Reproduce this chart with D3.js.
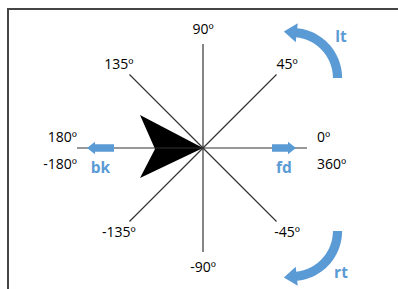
<!DOCTYPE html>
<html>
<head>
<meta charset="utf-8">
<script src="https://cdn.jsdelivr.net/npm/d3@7"></script>
<style>
  body { margin: 0; background: #fff; }
  svg { display: block; }
</style>
</head>
<body>
<div id="chart"></div>
<script>
// spokes of the compass (degrees, 0 = right, counter-clockwise)
const spokeAngles = [0, 45, 90, 135, 180, 225, 270, 315];

// angle labels around the compass
const labelAngles = [45, 90, 135, 225, 270, 315];
const labelText = ["45º", "90º", "135º", "-135º", "-90º", "-45º"];

// the two horizontal ends carry two labels each
const sideAngles = [0, 180];
const sideTop = ["0º", "180º"];
const sideBottom = ["360º", "-180º"];

// motion arrows
const straightMoves = ["fd", "bk"];
const straightAngles = [0, 180];
const turnMoves = ["lt", "rt"];
const turnDirs = [1, -1];

const width = 398, height = 289;
const cx = 203, cy = 148;
const R = 104;          // spoke length
const leftExtra = 22;   // the 180 spoke runs a bit further
const blue = "#5b9bd5";
const ink = "#333";

const svg = d3.select("#chart").append("svg")
    .attr("width", width)
    .attr("height", height);

svg.append("rect").attr("width", width).attr("height", height).attr("fill", "#fff");

// frame (only top and left sides are visible)
svg.append("path")
    .attr("d", `M8,${height} L8,9 L${width},9`)
    .attr("fill", "none")
    .attr("stroke", "#454545")
    .attr("stroke-width", 2);

const toRad = d3.scaleLinear().domain([0, 360]).range([0, 2 * Math.PI]);
const polar = (deg, r) => [cx + r * Math.cos(toRad(deg)), cy - r * Math.sin(toRad(deg))];
const spokeLen = deg => deg === 180 ? R + leftExtra : R;

// black dart pointing at the centre
const dart = [[0, 0], [-63, -33], [-48, 1], [-63, 30]];
svg.append("path")
    .attr("d", d3.line()(dart.map(p => [cx + p[0], cy + p[1]])) + "Z")
    .attr("fill", "#000");

// spokes
svg.append("g")
    .selectAll("line")
    .data(spokeAngles)
    .join("line")
    .attr("x1", cx)
    .attr("y1", cy)
    .attr("x2", d => polar(d, spokeLen(d))[0])
    .attr("y2", d => polar(d, spokeLen(d))[1])
    .attr("stroke", ink)
    .attr("stroke-width", 1.2);

const font = "'Open Sans', 'Liberation Sans', sans-serif";

// diagonal and vertical labels
svg.append("g")
    .selectAll("text")
    .data(labelAngles)
    .join("text")
    .attr("x", d => polar(d, R + 15)[0])
    .attr("y", d => polar(d, R + 15)[1])
    .attr("dy", "0.36em")
    .attr("text-anchor", "middle")
    .attr("font-family", font)
    .attr("font-size", 14)
    .attr("fill", "#000")
    .text((d, i) => labelText[i]);

// horizontal end labels
const sides = svg.append("g")
    .attr("font-family", font)
    .attr("font-size", 14)
    .attr("fill", "#000");
sideAngles.forEach((a, i) => {
    const right = a === 0;
    const x = right ? polar(a, R + 10)[0] : polar(a, spokeLen(a))[0];
    const anchor = right ? "start" : "end";
    sides.append("text")
        .attr("x", x).attr("y", cy - 6)
        .attr("text-anchor", anchor)
        .text(sideTop[i]);
    sides.append("text")
        .attr("x", x).attr("y", cy + 21)
        .attr("text-anchor", anchor)
        .text(sideBottom[i]);
});

// straight block arrows (fd / bk)
const straightSpan = { fd: [69, 93], bk: [89, 116] };
straightMoves.forEach((m, i) => {
    const a = straightAngles[i];
    const s = a === 0 ? 1 : -1;
    const [r0, r1] = straightSpan[m];
    const head = 8, sh = 3.7, hh = 6.3;
    const x0 = cx + s * r0, x1 = cx + s * r1, xh = x1 - s * head;
    const pts = [[x0, cy - sh], [xh, cy - sh], [xh, cy - hh], [x1, cy], [xh, cy + hh], [xh, cy + sh], [x0, cy + sh]];
    svg.append("path")
        .attr("d", d3.line()(pts) + "Z")
        .attr("fill", blue);
    svg.append("text")
        .attr("x", cx + s * (r0 + r1) / 2)
        .attr("y", cy + 25)
        .attr("text-anchor", "middle")
        .attr("font-family", font)
        .attr("font-weight", "bold")
        .attr("font-size", 15.5)
        .attr("fill", blue)
        .text(m);
});

// curved arrows (lt / rt)
const turnCentre = { lt: [292, 78], rt: [292, 231] };
turnMoves.forEach((m, i) => {
    const dir = turnDirs[i];
    const [ox, oy] = turnCentre[m];
    const rMid = 45.5, half = 4.6, headHalf = 9.5, headLen = 13;
    const thEnd = toRad(84);
    const pt = (th, r) => [ox + r * Math.cos(th), oy - dir * r * Math.sin(th)];
    const ths = d3.range(0, 41).map(k => thEnd * k / 40);
    const outer = ths.map(t => pt(t, rMid + half));
    const inner = ths.slice().reverse().map(t => pt(t, rMid - half));
    const mid = pt(thEnd, rMid);
    const tan = [-Math.sin(thEnd), -dir * Math.cos(thEnd)];
    const tip = [mid[0] + headLen * tan[0], mid[1] + headLen * tan[1]];
    const pts = outer.concat([pt(thEnd, rMid + headHalf), tip, pt(thEnd, rMid - headHalf)], inner);
    svg.append("path")
        .attr("d", d3.line()(pts) + "Z")
        .attr("fill", blue);
    svg.append("text")
        .attr("x", ox + 49)
        .attr("y", oy - dir * 41.5)
        .attr("dy", "0.36em")
        .attr("text-anchor", "middle")
        .attr("font-family", font)
        .attr("font-weight", "bold")
        .attr("font-size", 15.5)
        .attr("fill", blue)
        .text(m);
});
</script>
</body>
</html>
